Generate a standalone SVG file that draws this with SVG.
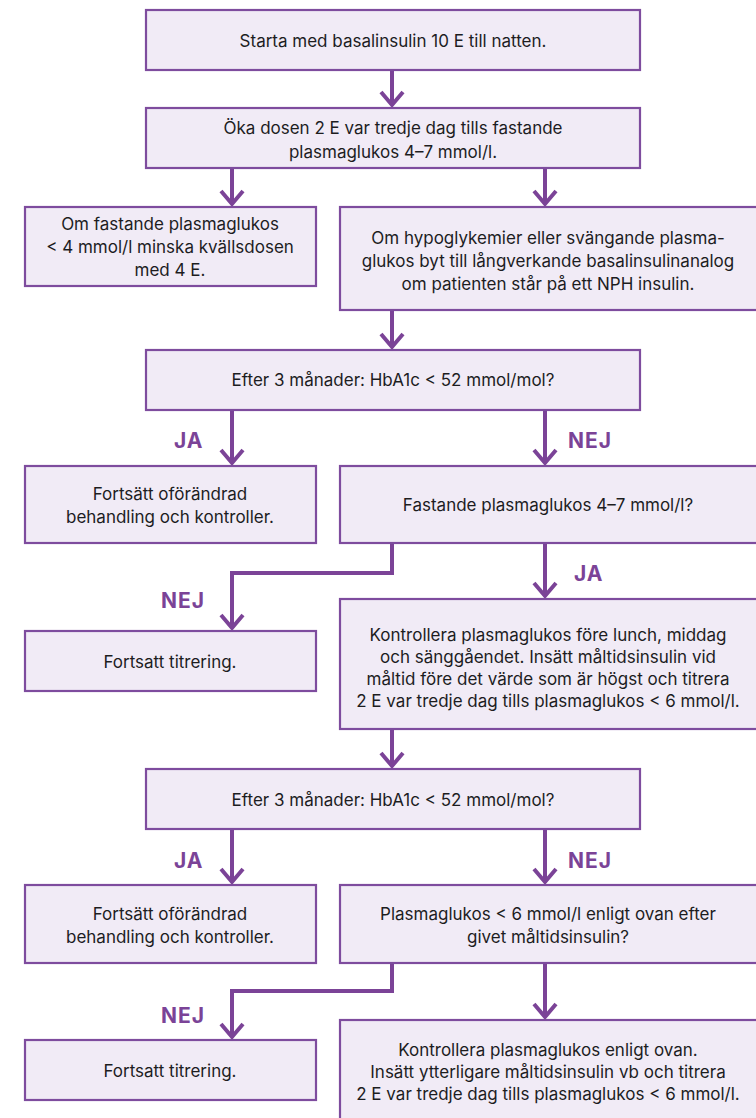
<svg xmlns="http://www.w3.org/2000/svg" width="756" height="1118" viewBox="0 0 756 1118">
<defs>
<marker id="chev" markerUnits="userSpaceOnUse" markerWidth="30" markerHeight="30" refX="0" refY="0" orient="auto" overflow="visible" viewBox="-20 -15 30 30">
<path d="M-13,-11 L0,0 L-13,11" fill="none" stroke="#7B4397" stroke-width="4" stroke-linejoin="miter"/>
</marker>
</defs>
<style>
.box{fill:#F1EBF6;stroke:#7E4C9E;stroke-width:2.2}
.t{font-family:Inter,"Noto Sans",sans-serif;font-size:17px;fill:#1d1d1f;text-anchor:middle}
.lbl{font-family:Inter,"Noto Sans",sans-serif;font-size:21px;font-weight:700;fill:#7B4397;letter-spacing:1px}
.c{fill:none;stroke:#7B4397;stroke-width:4;marker-end:url(#chev)}
</style>
<rect width="756" height="1118" fill="#ffffff"/>
<g id="connectors">
<path class="c" d="M392,70 V105"/>
<path class="c" d="M232,168 V204"/>
<path class="c" d="M545,168 V204"/>
<path class="c" d="M392,310 V347"/>
<path class="c" d="M232,410 V463"/>
<path class="c" d="M545,410 V463"/>
<path class="c" d="M392,543 V573 H232 V628"/>
<path class="c" d="M545,543 V596"/>
<path class="c" d="M392,729 V766"/>
<path class="c" d="M232,829 V882"/>
<path class="c" d="M545,829 V882"/>
<path class="c" d="M392,963 V991 H232 V1037"/>
<path class="c" d="M545,963 V1017"/>
<text class="lbl" x="174" y="448">JA</text>
<text class="lbl" x="568" y="448">NEJ</text>
<text class="lbl" x="161" y="608">NEJ</text>
<text class="lbl" x="574" y="581">JA</text>
<text class="lbl" x="174" y="868">JA</text>
<text class="lbl" x="568" y="868">NEJ</text>
<text class="lbl" x="161" y="1023">NEJ</text>
</g>
<g id="n1"><rect class="box" x="146" y="10" width="494" height="60"/>
<text class="t" x="393" y="47">Starta med basalinsulin 10 E till natten.</text></g>
<g id="n2"><rect class="box" x="146" y="108" width="494" height="60"/>
<text class="t" x="393" y="134">Öka dosen 2 E var tredje dag tills fastande</text>
<text class="t" x="393" y="158">plasmaglukos 4–7 mmol/l.</text></g>
<g id="n3"><rect class="box" x="25" y="207" width="291" height="79"/>
<text class="t" x="170" y="230">Om fastande plasmaglukos</text>
<text class="t" x="170" y="253">&lt; 4 mmol/l minska kvällsdosen</text>
<text class="t" x="170" y="276">med 4 E.</text></g>
<g id="n4"><rect class="box" x="340" y="207" width="420" height="103"/>
<text class="t" x="548" y="244">Om hypoglykemier eller svängande plasma-</text>
<text class="t" x="548" y="267">glukos byt till långverkande basalinsulinanalog</text>
<text class="t" x="548" y="290">om patienten står på ett NPH insulin.</text></g>
<g id="n5"><rect class="box" x="146" y="350" width="494" height="60"/>
<text class="t" x="393" y="386">Efter 3 månader: HbA1c &lt; 52 mmol/mol?</text></g>
<g id="n6"><rect class="box" x="25" y="466" width="291" height="77"/>
<text class="t" x="170" y="500">Fortsätt oförändrad</text>
<text class="t" x="170" y="523">behandling och kontroller.</text></g>
<g id="n7"><rect class="box" x="340" y="466" width="420" height="77"/>
<text class="t" x="548" y="511">Fastande plasmaglukos 4–7 mmol/l?</text></g>
<g id="n8"><rect class="box" x="25" y="631" width="291" height="60"/>
<text class="t" x="170" y="668">Fortsatt titrering.</text></g>
<g id="n9"><rect class="box" x="340" y="599" width="420" height="130"/>
<text class="t" x="548" y="641">Kontrollera plasmaglukos före lunch, middag</text>
<text class="t" x="548" y="663">och sänggåendet. Insätt måltidsinsulin vid</text>
<text class="t" x="548" y="685">måltid före det värde som är högst och titrera</text>
<text class="t" x="548" y="707">2 E var tredje dag tills plasmaglukos &lt; 6 mmol/l.</text></g>
<g id="n10"><rect class="box" x="146" y="769" width="494" height="60"/>
<text class="t" x="393" y="806">Efter 3 månader: HbA1c &lt; 52 mmol/mol?</text></g>
<g id="n11"><rect class="box" x="25" y="885" width="291" height="78"/>
<text class="t" x="170" y="920">Fortsätt oförändrad</text>
<text class="t" x="170" y="943">behandling och kontroller.</text></g>
<g id="n12"><rect class="box" x="340" y="885" width="420" height="78"/>
<text class="t" x="548" y="920">Plasmaglukos &lt; 6 mmol/l enligt ovan efter</text>
<text class="t" x="548" y="943">givet måltidsinsulin?</text></g>
<g id="n13"><rect class="box" x="25" y="1040" width="291" height="60"/>
<text class="t" x="170" y="1077">Fortsatt titrering.</text></g>
<g id="n14"><rect class="box" x="340" y="1020" width="420" height="110"/>
<text class="t" x="548" y="1056">Kontrollera plasmaglukos enligt ovan.</text>
<text class="t" x="548" y="1078">Insätt ytterligare måltidsinsulin vb och titrera</text>
<text class="t" x="548" y="1100">2 E var tredje dag tills plasmaglukos &lt; 6 mmol/l.</text></g>
</svg>
